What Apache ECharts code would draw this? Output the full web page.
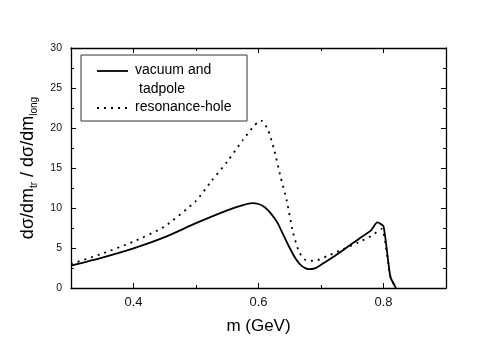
<!DOCTYPE html>
<html>
<head>
<meta charset="utf-8">
<script src="https://cdn.jsdelivr.net/npm/echarts@6/dist/echarts.min.js"></script>
<style>html,body{margin:0;padding:0;background:#fff}#c{width:491px;height:342px}</style>
</head>
<body>
<div id="c"></div>
<script>
// Data
const solidM = [0.30,0.35,0.40,0.45,0.50,0.55,0.575,0.59,0.60,0.61,0.62,0.63,0.64,0.65,0.66,0.67,0.68,0.69,0.70,0.72,0.74,0.76,0.78,0.79,0.80,0.811,0.82];
const solidV = [2.8,3.8,4.95,6.35,8.1,9.7,10.35,10.6,10.5,10.1,9.3,8.2,6.6,5.0,3.6,2.7,2.35,2.45,2.9,3.9,5.0,6.1,7.2,8.2,7.7,1.4,0];
const dotM = [0.30,0.35,0.40,0.45,0.50,0.525,0.55,0.575,0.59,0.60,0.605,0.615,0.625,0.635,0.645,0.655,0.665,0.675,0.69,0.71,0.73,0.76,0.78,0.797,0.811,0.82];
const dotV = [3.0,4.3,5.8,7.7,10.9,13.4,15.8,18.5,20.0,20.8,20.9,19.8,17.3,14.0,11.0,7.0,4.5,3.5,3.4,4.0,4.65,5.7,6.5,7.4,1.4,0];
const seriesNames = ['vacuum and tadpole', 'resonance-hole'];
const xMajor = [0.4, 0.6, 0.8];
const xMinor = [0.5, 0.7];
const yTicks = [0, 5, 10, 15, 20, 25, 30];

const zip = (a, b) => a.map((v, i) => [v, b[i]]);
const FONT = 'Liberation Sans, Arial, Helvetica, sans-serif';
const lineCol = {color: '#000', width: 1.3};

function xAx(pos, ticks, len, labels, showLine) {
  return {
    type: 'value', min: 0.3, max: 0.9, interval: 0.1, position: pos,
    axisLine: {show: showLine, onZero: false, lineStyle: lineCol},
    axisTick: {show: true, inside: true, length: len, customValues: ticks, lineStyle: {color: '#000', width: 1}},
    axisLabel: labels ? {show: true, margin: 8, fontFamily: FONT, fontSize: 13, color: '#111',
      customValues: xMajor, formatter: v => v.toFixed(1)} : {show: false},
    splitLine: {show: false}
  };
}
function yAx(pos, labels) {
  return {
    type: 'value', min: 0, max: 30, interval: 5, position: pos,
    axisLine: {show: true, onZero: false, lineStyle: lineCol},
    axisTick: {show: true, inside: true, length: 5, lineStyle: {color: '#000', width: 1}},
    minorTick: {show: true, splitNumber: 2, length: 3, lineStyle: {color: '#000', width: 1}},
    axisLabel: labels ? {show: true, margin: 9, fontFamily: FONT, fontSize: 10.5, color: '#111',
      formatter: v => yTicks.includes(v) ? String(v) : ''} : {show: false},
    splitLine: {show: false}
  };
}

const xBottom = xAx('bottom', xMajor, 5, true, true);
xBottom.name = 'm (GeV)';
xBottom.nameLocation = 'middle';
xBottom.nameGap = 30;
xBottom.nameTextStyle = {fontFamily: FONT, fontSize: 17, color: '#000'};

const yLeft = yAx('left', true);
yLeft.name = 'dσ/dm{sub|tr} / dσ/dm{sub|long}';
yLeft.nameLocation = 'middle';
yLeft.nameGap = 25;
yLeft.nameRotate = 90;
yLeft.nameTextStyle = {fontFamily: FONT, fontSize: 18, color: '#000', lineHeight: 22,
  rich: {sub: {fontFamily: FONT, fontSize: 10, color: '#000', lineHeight: 12, verticalAlign: 'bottom'}}};

const chart = echarts.init(document.getElementById('c'), null, {renderer: 'canvas'});
chart.setOption({
  animation: false,
  backgroundColor: '#fff',
  grid: {left: 71, right: 45, top: 48, bottom: 54},
  xAxis: [
    xBottom,
    xAx('bottom', xMinor, 3, false, false),
    xAx('top', xMajor, 5, false, true),
    xAx('top', xMinor, 3, false, false)
  ],
  yAxis: [yLeft, yAx('right', false)],
  series: [
    {
      name: seriesNames[0], type: 'line', data: zip(solidM, solidV),
      xAxisIndex: 0, yAxisIndex: 0,
      showSymbol: false, smooth: 0.2,
      lineStyle: {color: '#000', width: 1.8, type: 'solid'}, z: 3
    },
    {
      name: seriesNames[1], type: 'line', data: zip(dotM, dotV),
      xAxisIndex: 0, yAxisIndex: 0,
      showSymbol: false, smooth: 0.2,
      lineStyle: {color: '#000', width: 1.8, type: [2, 5]}, z: 2
    }
  ],
  graphic: [
    {type: 'rect', shape: {x: 81, y: 55, width: 166, height: 66},
      style: {fill: '#fff', stroke: '#333', lineWidth: 1}, z: 10},
    {type: 'line', shape: {x1: 97, y1: 71, x2: 128, y2: 71},
      style: {stroke: '#000', lineWidth: 1.8}, z: 11},
    {type: 'text', left: 135, top: 63, z: 11,
      style: {text: 'vacuum and', font: '14px ' + FONT, fill: '#000'}},
    {type: 'text', left: 139, top: 82, z: 11,
      style: {text: 'tadpole', font: '14px ' + FONT, fill: '#000'}},
    {type: 'line', shape: {x1: 97, y1: 108, x2: 128, y2: 108},
      style: {stroke: '#000', lineWidth: 1.8, lineDash: [2, 5]}, z: 11},
    {type: 'text', left: 135, top: 100, z: 11,
      style: {text: seriesNames[1], font: '14px ' + FONT, fill: '#000'}}
  ]
});
</script>
</body>
</html>
